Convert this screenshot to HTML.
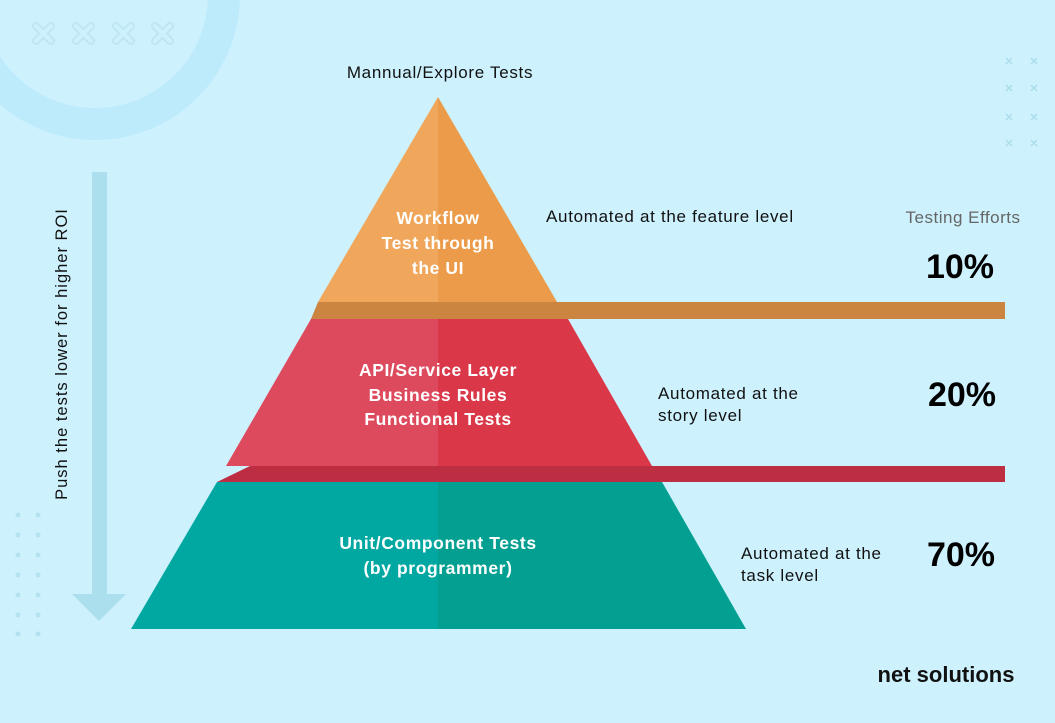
<!DOCTYPE html>
<html><head><style>
html,body{margin:0;padding:0;background:#cdf1fd;}
svg{display:block;font-family:"Liberation Sans",sans-serif;}
</style></head><body>
<svg width="1055" height="723" viewBox="0 0 1055 723">
<rect width="1055" height="723" fill="#cdf1fd"/>
<circle cx="95" cy="-5" r="129" fill="none" stroke="#bdebfc" stroke-width="32"/>
<g stroke="#bfe6f4" stroke-width="8" stroke-linecap="round" fill="none">
<path d="M36 26l15 15M51 26l-15 15M76 26l15 15M91 26l-15 15M116 26l15 15M131 26l-15 15M155 26l15 15M170 26l-15 15"/>
</g>
<g stroke="#cdf1fd" stroke-width="4" stroke-linecap="round" fill="none">
<path d="M36 26l15 15M51 26l-15 15M76 26l15 15M91 26l-15 15M116 26l15 15M131 26l-15 15M155 26l15 15M170 26l-15 15"/>
</g>
<g stroke="#a9dcea" stroke-width="1.3">
<path d="M1006 58l6 6M1012 58l-6 6M1031 58l6 6M1037 58l-6 6M1006 85l6 6M1012 85l-6 6M1031 85l6 6M1037 85l-6 6M1006 114l6 6M1012 114l-6 6M1031 114l6 6M1037 114l-6 6M1006 140l6 6M1012 140l-6 6M1031 140l6 6M1037 140l-6 6"/>
</g>
<g fill="#b5e2f0">
<circle cx="18" cy="515" r="2.5"/><circle cx="38" cy="515" r="2.5"/>
<circle cx="18" cy="535" r="2.5"/><circle cx="38" cy="535" r="2.5"/>
<circle cx="18" cy="555" r="2.5"/><circle cx="38" cy="555" r="2.5"/>
<circle cx="18" cy="575" r="2.5"/><circle cx="38" cy="575" r="2.5"/>
<circle cx="18" cy="595" r="2.5"/><circle cx="38" cy="595" r="2.5"/>
<circle cx="18" cy="615" r="2.5"/><circle cx="38" cy="615" r="2.5"/>
<circle cx="18" cy="634" r="2.5"/><circle cx="38" cy="634" r="2.5"/>
</g>
<path d="M92 172H107V594H126L99 621L72 594H92Z" fill="#abdfee"/>
<text transform="translate(67,354) rotate(-90)" text-anchor="middle" font-size="16.5" letter-spacing="1" fill="#111">Push the tests lower for higher ROI</text>

<path d="M438 97L318 302H438Z" fill="#f0a65b"/>
<path d="M438 97L557 302H438Z" fill="#eb9b49"/>
<path d="M318 302H1005V319H311Z" fill="#cb8540"/>
<path d="M311 319H438V466H226Z" fill="#dd4a5d"/>
<path d="M438 319H568L652 466H438Z" fill="#da3749"/>
<path d="M250 466H1005V482H217Z" fill="#be2e42"/>
<path d="M217 482H438V629H131Z" fill="#00a8a1"/>
<path d="M438 482H662L746 629H438Z" fill="#03a092"/>

<g fill="#fff" font-weight="bold" font-size="17.5" letter-spacing="0.6" text-anchor="middle">
<text x="438" y="224">Workflow</text>
<text x="438" y="249">Test through</text>
<text x="438" y="274">the UI</text>
<text x="438" y="376">API/Service Layer</text>
<text x="438" y="401">Business Rules</text>
<text x="438" y="425">Functional Tests</text>
<text x="438" y="549">Unit/Component Tests</text>
<text x="438" y="574">(by programmer)</text>
</g>
<g fill="#111" font-size="17" letter-spacing="0.7">
<text x="440" y="78" text-anchor="middle">Mannual/Explore Tests</text>
<text x="546" y="222">Automated at the feature level</text>
<text x="658" y="399">Automated at the</text>
<text x="658" y="421">story level</text>
<text x="741" y="559">Automated at the</text>
<text x="741" y="581">task level</text>
</g>
<text x="963" y="223" font-size="17" letter-spacing="0.5" fill="#666" text-anchor="middle">Testing Efforts</text>
<g font-size="34" font-weight="bold" fill="#000" text-anchor="middle">
<text x="960" y="278">10%</text>
<text x="962" y="406">20%</text>
<text x="961" y="566">70%</text>
</g>
<text x="946" y="682" font-size="22" font-weight="bold" fill="#111" text-anchor="middle" letter-spacing="0">net solutions</text>
</svg>
</body></html>
